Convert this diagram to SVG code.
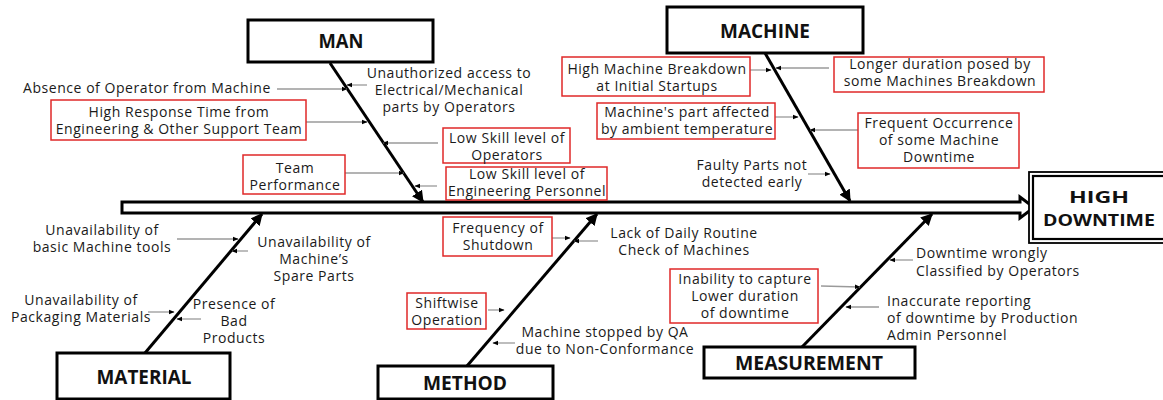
<svg xmlns="http://www.w3.org/2000/svg" width="1163" height="400" viewBox="0 0 1163 400">
  <defs>
    <style>
      .cat rect { fill: #fff; stroke: #000; stroke-width: 3; }
      .cat text, .eff text { font-family: "Open Sans", "Liberation Sans", sans-serif; font-weight: bold; font-size: 19px; fill: #111; text-anchor: middle; }
      .eff text { font-size: 16.5px; }
      .lbl { font-family: "Open Sans", "Liberation Sans", sans-serif; font-size: 14px; letter-spacing: 0.55px; fill: #1a1a1a; }
      .mid { text-anchor: middle; }
      .box { fill: #fff; stroke: #e02828; stroke-width: 1.5; }
      .bone { stroke: #000; stroke-width: 3; fill: none; marker-end: url(#bigHead); }
      .cause { stroke: #9a9a9a; stroke-width: 1.3; fill: none; marker-end: url(#smallHead); }
    </style>
    <marker id="bigHead" viewBox="0 0 10 10" refX="9" refY="5" markerWidth="4" markerHeight="4" orient="auto" markerUnits="strokeWidth">
      <path d="M0,0 L10,5 L0,10 Z" fill="#000"/>
    </marker>
    <marker id="smallHead" viewBox="0 0 10 10" refX="9" refY="5" markerWidth="6" markerHeight="6" orient="auto" markerUnits="userSpaceOnUse">
      <path d="M0,1 L10,5 L0,9 Z" fill="#000"/>
    </marker>
  </defs>

  <rect width="1163" height="400" fill="#fff"/>

  <!-- connectors: spine, category bones and cause arrows -->
  <g id="connectors">
    <path id="spine" d="M122,202 H1020 V197 L1034,207.5 L1020,218 V213 H122 Z" fill="#fff" stroke="#000" stroke-width="3" stroke-linejoin="miter"/>

    <line class="bone" x1="330" y1="63" x2="423" y2="202"/>
    <line class="bone" x1="765" y1="53" x2="850" y2="201"/>
    <line class="bone" x1="145" y1="353" x2="262" y2="214"/>
    <line class="bone" x1="467" y1="366" x2="597" y2="214"/>
    <line class="bone" x1="802" y1="347" x2="932" y2="214"/>

    <!-- man -->
    <line class="cause" x1="277" y1="89" x2="347" y2="89"/>
    <line class="cause" x1="367" y1="85" x2="347" y2="85"/>
    <line class="cause" x1="306" y1="122" x2="367" y2="122"/>
    <line class="cause" x1="438" y1="143" x2="383" y2="143"/>
    <line class="cause" x1="345" y1="173" x2="404" y2="173"/>
    <line class="cause" x1="437" y1="186" x2="415" y2="186"/>
    <!-- machine -->
    <line class="cause" x1="750" y1="70" x2="771" y2="70"/>
    <line class="cause" x1="829" y1="68" x2="776" y2="68"/>
    <line class="cause" x1="775" y1="117" x2="798" y2="117"/>
    <line class="cause" x1="858" y1="130" x2="810" y2="130"/>
    <line class="cause" x1="808" y1="174" x2="830" y2="174"/>
    <!-- material -->
    <line class="cause" x1="177" y1="239" x2="238" y2="239"/>
    <line class="cause" x1="248" y1="251" x2="232" y2="251"/>
    <line class="cause" x1="148" y1="312" x2="174" y2="312"/>
    <line class="cause" x1="201" y1="319" x2="177" y2="319"/>
    <!-- method -->
    <line class="cause" x1="552" y1="238" x2="570" y2="238"/>
    <line class="cause" x1="598" y1="241" x2="574" y2="241"/>
    <line class="cause" x1="488" y1="310" x2="504" y2="310"/>
    <line class="cause" x1="515" y1="343" x2="493" y2="343"/>
    <!-- measurement -->
    <line class="cause" x1="821" y1="286" x2="860" y2="287"/>
    <line class="cause" x1="913" y1="260" x2="890" y2="260"/>
    <line class="cause" x1="879" y1="307" x2="846" y2="307"/>
  </g>

  <!-- category heads -->
  <g id="man" class="cat">
    <rect x="248" y="20" width="185" height="42"/>
    <text x="341" y="48" textLength="45" lengthAdjust="spacingAndGlyphs">MAN</text>
  </g>
  <g id="machine" class="cat">
    <rect x="667" y="7" width="196" height="46"/>
    <text x="765" y="38" textLength="90" lengthAdjust="spacingAndGlyphs">MACHINE</text>
  </g>
  <g id="material" class="cat">
    <rect x="57" y="353" width="173" height="46"/>
    <text x="144" y="384" textLength="95" lengthAdjust="spacingAndGlyphs">MATERIAL</text>
  </g>
  <g id="method" class="cat">
    <rect x="378" y="366" width="175" height="33"/>
    <text x="465" y="390" textLength="84" lengthAdjust="spacingAndGlyphs">METHOD</text>
  </g>
  <g id="measurement" class="cat">
    <rect x="704" y="347" width="211" height="31"/>
    <text x="809" y="370" textLength="148" lengthAdjust="spacingAndGlyphs">MEASUREMENT</text>
  </g>

  <!-- effect -->
  <g id="high-downtime" class="eff">
    <rect x="1029" y="172" width="140" height="71" fill="#fff" stroke="#000" stroke-width="1.8"/>
    <rect x="1033" y="176" width="140" height="63" fill="none" stroke="#000" stroke-width="2.2"/>
    <text x="1099" y="203" textLength="60" lengthAdjust="spacingAndGlyphs">HIGH</text>
    <text x="1099" y="226" textLength="112" lengthAdjust="spacingAndGlyphs">DOWNTIME</text>
  </g>

  <!-- man causes -->
  <g id="absence-operator">
    <text class="lbl" x="23" y="93">Absence of Operator from Machine</text>
  </g>
  <g id="unauthorized-access">
    <text class="lbl mid"><tspan x="449" y="78">Unauthorized access to</tspan><tspan x="449" y="95">Electrical/Mechanical</tspan><tspan x="449" y="112">parts by Operators</tspan></text>
  </g>
  <g id="high-response-time">
    <rect class="box" x="51" y="100" width="255" height="40"/>
    <text class="lbl mid"><tspan x="179" y="117">High Response Time from</tspan><tspan x="179" y="134">Engineering &amp; Other Support Team</tspan></text>
  </g>
  <g id="low-skill-operators">
    <rect class="box" x="443" y="128" width="127" height="35"/>
    <text class="lbl mid"><tspan x="507" y="143">Low Skill level of</tspan><tspan x="507" y="160">Operators</tspan></text>
  </g>
  <g id="team-performance">
    <rect class="box" x="243" y="155" width="102" height="39"/>
    <text class="lbl mid"><tspan x="295" y="173">Team</tspan><tspan x="295" y="190">Performance</tspan></text>
  </g>
  <g id="low-skill-engineering">
    <rect class="box" x="446" y="167" width="161" height="33"/>
    <text class="lbl mid"><tspan x="527" y="179">Low Skill level of</tspan><tspan x="527" y="196">Engineering Personnel</tspan></text>
  </g>

  <!-- machine causes -->
  <g id="breakdown-startups">
    <rect class="box" x="562" y="57" width="188" height="39"/>
    <text class="lbl mid"><tspan x="657" y="74">High Machine Breakdown</tspan><tspan x="657" y="91">at Initial Startups</tspan></text>
  </g>
  <g id="longer-duration">
    <rect class="box" x="834" y="57" width="210" height="35"/>
    <text class="lbl mid"><tspan x="940" y="69">Longer duration posed by</tspan><tspan x="940" y="86">some Machines Breakdown</tspan></text>
  </g>
  <g id="ambient-temperature">
    <rect class="box" x="597" y="103" width="178" height="36"/>
    <text class="lbl mid"><tspan x="687" y="117">Machine's part affected</tspan><tspan x="687" y="134">by ambient temperature</tspan></text>
  </g>
  <g id="frequent-occurrence">
    <rect class="box" x="858" y="113" width="161" height="55"/>
    <text class="lbl mid"><tspan x="939" y="128">Frequent Occurrence</tspan><tspan x="939" y="145">of some Machine</tspan><tspan x="939" y="162">Downtime</tspan></text>
  </g>
  <g id="faulty-parts">
    <text class="lbl mid"><tspan x="752" y="170">Faulty Parts not</tspan><tspan x="752" y="187">detected early</tspan></text>
  </g>

  <!-- material causes -->
  <g id="machine-tools">
    <text class="lbl mid"><tspan x="102" y="235">Unavailability of</tspan><tspan x="102" y="252">basic Machine tools</tspan></text>
  </g>
  <g id="spare-parts">
    <text class="lbl mid"><tspan x="314" y="247">Unavailability of</tspan><tspan x="314" y="264">Machine’s</tspan><tspan x="314" y="281">Spare Parts</tspan></text>
  </g>
  <g id="packaging-materials">
    <text class="lbl mid"><tspan x="81" y="305">Unavailability of</tspan><tspan x="81" y="322">Packaging Materials</tspan></text>
  </g>
  <g id="bad-products">
    <text class="lbl mid"><tspan x="234" y="309">Presence of</tspan><tspan x="234" y="326">Bad</tspan><tspan x="234" y="343">Products</tspan></text>
  </g>

  <!-- method causes -->
  <g id="shutdown-frequency">
    <rect class="box" x="443" y="217" width="109" height="39"/>
    <text class="lbl mid"><tspan x="498" y="233">Frequency of</tspan><tspan x="498" y="250">Shutdown</tspan></text>
  </g>
  <g id="daily-routine">
    <text class="lbl mid"><tspan x="684" y="238">Lack of Daily Routine</tspan><tspan x="684" y="255">Check of Machines</tspan></text>
  </g>
  <g id="shiftwise-operation">
    <rect class="box" x="407" y="293" width="79" height="36"/>
    <text class="lbl mid"><tspan x="447" y="308">Shiftwise</tspan><tspan x="447" y="325">Operation</tspan></text>
  </g>
  <g id="qa-stoppage">
    <text class="lbl mid"><tspan x="605" y="337">Machine stopped by QA</tspan><tspan x="605" y="354">due to Non-Conformance</tspan></text>
  </g>

  <!-- measurement causes -->
  <g id="lower-duration">
    <rect class="box" x="670" y="269" width="148" height="54"/>
    <text class="lbl mid"><tspan x="745" y="284">Inability to capture</tspan><tspan x="745" y="301">Lower duration</tspan><tspan x="745" y="318">of downtime</tspan></text>
  </g>
  <g id="wrong-classification">
    <text class="lbl"><tspan x="916" y="258">Downtime wrongly</tspan><tspan x="916" y="276">Classified by Operators</tspan></text>
  </g>
  <g id="inaccurate-reporting">
    <text class="lbl"><tspan x="887" y="306">Inaccurate reporting</tspan><tspan x="887" y="323">of downtime by Production</tspan><tspan x="887" y="340">Admin Personnel</tspan></text>
  </g>
</svg>
